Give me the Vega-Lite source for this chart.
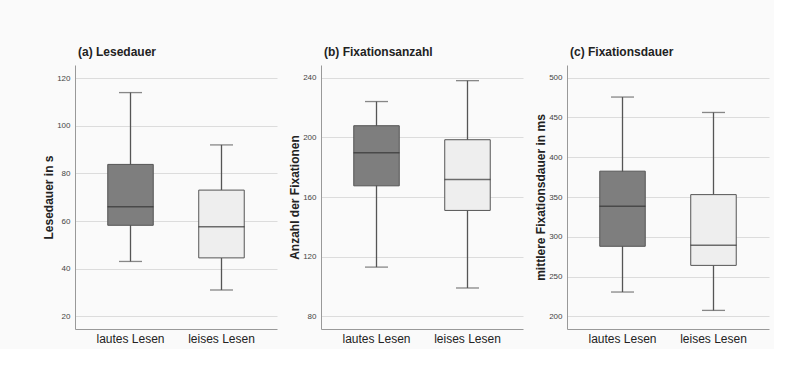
{
  "$schema": "https://vega.github.io/schema/vega-lite/v6.json",
  "background": "#fafafa",
  "padding": {"left": 42, "top": 46, "right": 5, "bottom": 5},
  "data": {"values": [
    {"panel": "a", "group": "lautes Lesen", "min": 43, "q1": 58.2, "median": 66, "q3": 83.8, "max": 114},
    {"panel": "a", "group": "leises Lesen", "min": 31, "q1": 44.5, "median": 57.6, "q3": 73, "max": 92},
    {"panel": "b", "group": "lautes Lesen", "min": 113, "q1": 167.5, "median": 189.6, "q3": 207.8, "max": 224},
    {"panel": "b", "group": "leises Lesen", "min": 99, "q1": 151, "median": 171.7, "q3": 198.4, "max": 238},
    {"panel": "c", "group": "lautes Lesen", "min": 230.5, "q1": 288, "median": 338.4, "q3": 382.5, "max": 475.7},
    {"panel": "c", "group": "leises Lesen", "min": 207.4, "q1": 264, "median": 289.3, "q3": 353, "max": 456.3}
  ]},
  "spacing": 44,
  "bounds": "flush",
  "hconcat": [
    {
      "width": 202, "height": 264,
      "title": {"text": "(a) Lesedauer"},
      "transform": [{"filter": "datum.panel === 'a'"}],
      "encoding": {"x": {"field": "group", "type": "nominal", "sort": ["lautes Lesen", "leises Lesen"], "scale": {"paddingInner": 0.5, "paddingOuter": 0.36}, "axis": {"title": null, "labelAngle": 0}}},
      "layer": [
        {"mark": {"type": "rule", "color": "#555555", "strokeWidth": 1.3}, "encoding": {"y": {"field": "min", "type": "quantitative", "title": "Lesedauer in s", "scale": {"domain": [14.6, 125.6], "nice": false, "zero": false}, "axis": {"values": [20, 40, 60, 80, 100, 120]}}, "y2": {"field": "max"}}},
        {"mark": {"type": "bar", "stroke": "#555555", "strokeWidth": 1, "width": {"band": 1}}, "encoding": {"y": {"field": "q1", "type": "quantitative", "title": "Lesedauer in s"}, "y2": {"field": "q3"}, "fill": {"field": "group", "type": "nominal", "scale": {"domain": ["lautes Lesen", "leises Lesen"], "range": ["#7e7e7e", "#eeeeee"]}, "legend": null}}},
        {"mark": {"type": "tick", "color": "#333333", "thickness": 1.5, "size": 46}, "encoding": {"y": {"field": "median", "type": "quantitative", "title": "Lesedauer in s"}}},
        {"mark": {"type": "tick", "color": "#555555", "thickness": 1.3, "size": 23}, "encoding": {"y": {"field": "min", "type": "quantitative", "title": "Lesedauer in s"}}},
        {"mark": {"type": "tick", "color": "#555555", "thickness": 1.3, "size": 23}, "encoding": {"y": {"field": "max", "type": "quantitative", "title": "Lesedauer in s"}}}
      ]
    },
    {
      "width": 202, "height": 264,
      "title": {"text": "(b) Fixationsanzahl"},
      "transform": [{"filter": "datum.panel === 'b'"}],
      "encoding": {"x": {"field": "group", "type": "nominal", "sort": ["lautes Lesen", "leises Lesen"], "scale": {"paddingInner": 0.5, "paddingOuter": 0.36}, "axis": {"title": null, "labelAngle": 0}}},
      "layer": [
        {"mark": {"type": "rule", "color": "#555555", "strokeWidth": 1.3}, "encoding": {"y": {"field": "min", "type": "quantitative", "title": "Anzahl der Fixationen", "scale": {"domain": [71.5, 248.5], "nice": false, "zero": false}, "axis": {"values": [80, 120, 160, 200, 240]}}, "y2": {"field": "max"}}},
        {"mark": {"type": "bar", "stroke": "#555555", "strokeWidth": 1, "width": {"band": 1}}, "encoding": {"y": {"field": "q1", "type": "quantitative", "title": "Anzahl der Fixationen"}, "y2": {"field": "q3"}, "fill": {"field": "group", "type": "nominal", "scale": {"domain": ["lautes Lesen", "leises Lesen"], "range": ["#7e7e7e", "#eeeeee"]}, "legend": null}}},
        {"mark": {"type": "tick", "color": "#333333", "thickness": 1.5, "size": 46}, "encoding": {"y": {"field": "median", "type": "quantitative", "title": "Anzahl der Fixationen"}}},
        {"mark": {"type": "tick", "color": "#555555", "thickness": 1.3, "size": 23}, "encoding": {"y": {"field": "min", "type": "quantitative", "title": "Anzahl der Fixationen"}}},
        {"mark": {"type": "tick", "color": "#555555", "thickness": 1.3, "size": 23}, "encoding": {"y": {"field": "max", "type": "quantitative", "title": "Anzahl der Fixationen"}}}
      ]
    },
    {
      "width": 202, "height": 264,
      "title": {"text": "(c) Fixationsdauer"},
      "transform": [{"filter": "datum.panel === 'c'"}],
      "encoding": {"x": {"field": "group", "type": "nominal", "sort": ["lautes Lesen", "leises Lesen"], "scale": {"paddingInner": 0.5, "paddingOuter": 0.36}, "axis": {"title": null, "labelAngle": 0}}},
      "layer": [
        {"mark": {"type": "rule", "color": "#555555", "strokeWidth": 1.3}, "encoding": {"y": {"field": "min", "type": "quantitative", "title": "mittlere Fixationsdauer in ms", "scale": {"domain": [184, 516], "nice": false, "zero": false}, "axis": {"values": [200, 250, 300, 350, 400, 450, 500]}}, "y2": {"field": "max"}}},
        {"mark": {"type": "bar", "stroke": "#555555", "strokeWidth": 1, "width": {"band": 1}}, "encoding": {"y": {"field": "q1", "type": "quantitative", "title": "mittlere Fixationsdauer in ms"}, "y2": {"field": "q3"}, "fill": {"field": "group", "type": "nominal", "scale": {"domain": ["lautes Lesen", "leises Lesen"], "range": ["#7e7e7e", "#eeeeee"]}, "legend": null}}},
        {"mark": {"type": "tick", "color": "#333333", "thickness": 1.5, "size": 46}, "encoding": {"y": {"field": "median", "type": "quantitative", "title": "mittlere Fixationsdauer in ms"}}},
        {"mark": {"type": "tick", "color": "#555555", "thickness": 1.3, "size": 23}, "encoding": {"y": {"field": "min", "type": "quantitative", "title": "mittlere Fixationsdauer in ms"}}},
        {"mark": {"type": "tick", "color": "#555555", "thickness": 1.3, "size": 23}, "encoding": {"y": {"field": "max", "type": "quantitative", "title": "mittlere Fixationsdauer in ms"}}}
      ]
    }
  ],
  "config": {
    "font": "Liberation Sans",
    "view": {"stroke": null},
    "axis": {"domainColor": "#999999", "ticks": false, "tickSize": 0, "gridColor": "#dcdcdc", "labelColor": "#444444"},
    "axisY": {"grid": true, "labelFontSize": 8, "labelPadding": 5, "titleFontSize": 12, "titleFontWeight": "bold", "titleColor": "#222222", "titleX": -27, "titleBaseline": "middle"},
    "axisX": {"grid": false, "labelFontSize": 12, "labelColor": "#222222", "labelPadding": 4},
    "title": {"anchor": "start", "frame": "group", "fontSize": 12, "fontWeight": "bold", "color": "#222222", "baseline": "alphabetic", "offset": 6, "dx": 3}
  }
}
